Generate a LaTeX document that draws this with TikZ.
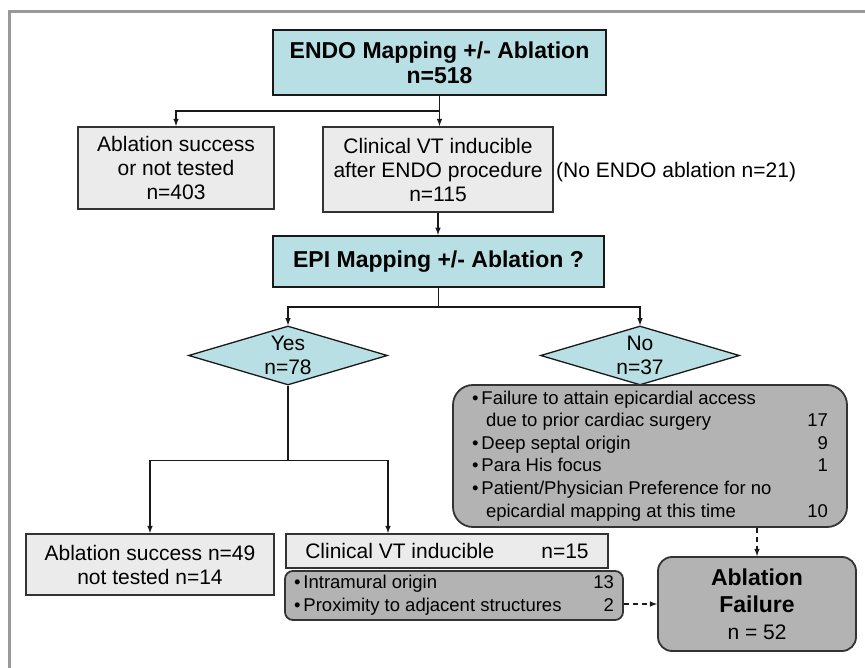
\documentclass[tikz,border=0pt]{standalone}
\usepackage{fontspec}
\setmainfont{Liberation Sans}
\usepackage{tikz}
\usetikzlibrary{arrows,shapes.geometric}

\definecolor{boxblue}{HTML}{B8DFE3}
\definecolor{boxlight}{HTML}{EBEBEB}
\definecolor{boxdark}{HTML}{B3B3B3}
\definecolor{framegray}{HTML}{999999}

\begin{document}
\begin{tikzpicture}[x=1pt,y=-1pt,>=latex]
		\tikzstyle{blue box}=[draw=black!90, line width=2.2pt, fill=boxblue, inner sep=0pt, align=center, font=\fontsize{23}{25}\selectfont\bfseries]
		\tikzstyle{light box}=[draw=black!80, line width=1.8pt, fill=boxlight, inner sep=0pt, align=center, font=\fontsize{21}{24}\selectfont]
		\tikzstyle{dark box}=[draw=black!80, line width=1.8pt, fill=boxdark, inner sep=0pt, align=center, font=\fontsize{18.5}{22.6}\selectfont]
		\tikzstyle{choice}=[diamond, draw=black!90, line width=1.3pt, fill=boxblue, inner sep=0pt, minimum width=199pt, minimum height=59pt]
		\tikzstyle{link}=[->, line width=1.5pt, black!90]
		\tikzstyle{maybe}=[link, dash pattern=on 5pt off 4pt]
		
		\useasboundingbox (0,0) rectangle (865,668);
		\draw[framegray, line width=3pt] (9,668) -- (9,12) -- (865,12);
		
		\node[blue box, minimum width=333pt, minimum height=65pt] (endo) at (439.5,62.5) {ENDO Mapping +/- Ablation\\n=518};
		\node[light box, minimum width=196pt, minimum height=82pt] (succ1) at (176,168) {Ablation success\\or not tested\\n=403};
		\node[light box, minimum width=230pt, minimum height=85pt] (clin1) at (438,169.5) {Clinical VT inducible\\after ENDO procedure\\n=115};
		\node[anchor=west, inner sep=0pt, font=\fontsize{21}{24}\selectfont] (noendo) at (556,172) {(No ENDO ablation n=21)};
		\node[blue box, minimum width=331pt, minimum height=51pt] (epi) at (438.5,261.5) {EPI Mapping +/- Ablation ?};
		
		\node[choice, label={[align=center, font=\fontsize{21}{24}\selectfont]center:Yes\\n=78}] (yes) at (288,355.5) {};
		\node[choice, label={[align=center, font=\fontsize{21}{24}\selectfont]center:No\\n=37}]  (no)  at (640,355.5) {};
		
		\node[dark box, rounded corners=20pt, minimum width=394pt, minimum height=142pt] (nobox) at (650,456) {%
			\begin{tabular*}{356pt}{@{}l@{\extracolsep{\fill}}r@{}}
				\textbullet\hspace{3pt}Failure to attain epicardial access & \\
				\hspace{14pt}due to prior cardiac surgery & 17\\
				\textbullet\hspace{3pt}Deep septal origin & 9\\
				\textbullet\hspace{3pt}Para His focus & 1\\
				\textbullet\hspace{3pt}Patient/Physician Preference for no & \\
				\hspace{14pt}epicardial mapping at this time & 10
			\end{tabular*}};
		
		\node[light box, minimum width=248pt, minimum height=61pt] (succ2) at (150,564.5) {Ablation success n=49\\not tested n=14};
		\node[light box, minimum width=322pt, minimum height=34pt] (clin2) at (447,551) {Clinical VT inducible\hspace{47pt}n=15};
		\node[dark box, rounded corners=8pt, minimum width=338pt, minimum height=49pt] (why) at (454,595.5) {%
			\begin{tabular*}{320pt}{@{}l@{\extracolsep{\fill}}r@{}}
				\textbullet\hspace{3pt}Intramural origin & 13\\
				\textbullet\hspace{3pt}Proximity to adjacent structures & 2
			\end{tabular*}};
		\node[dark box, rounded corners=14pt, minimum width=198pt, minimum height=94pt, font=\fontsize{21}{27}\selectfont] (fail) at (757,604)
			{{\fontsize{23}{27}\selectfont\bfseries Ablation}\\{\fontsize{23}{27}\selectfont\bfseries Failure}\\n = 52};
		
		% ENDO split
		\draw[link] (endo.south) -- ++(0,15) -| (succ1.north);
		\draw[link] (endo.south) -- (endo.south |- clin1.north);
		\draw[link] (clin1.south) -- (clin1.south |- epi.north);
		% EPI split
		\draw[link] (epi.south) -- ++(0,19) -| (yes.north);
		\draw[link] (epi.south) ++(0,19) -| (no.north);
		% yes branch
		\draw[link] (yes.south) -- ++(0,75) -| (succ2.north);
		\draw[link] (yes.south) ++(0,75) -| ([xshift=-59pt]clin2.north);
		% to failure
		\draw[maybe] (fail.north |- nobox.south) -- (fail.north);
		\draw[maybe] (fail.west -| why.east) -- (fail.west);
\end{tikzpicture}
\end{document}
